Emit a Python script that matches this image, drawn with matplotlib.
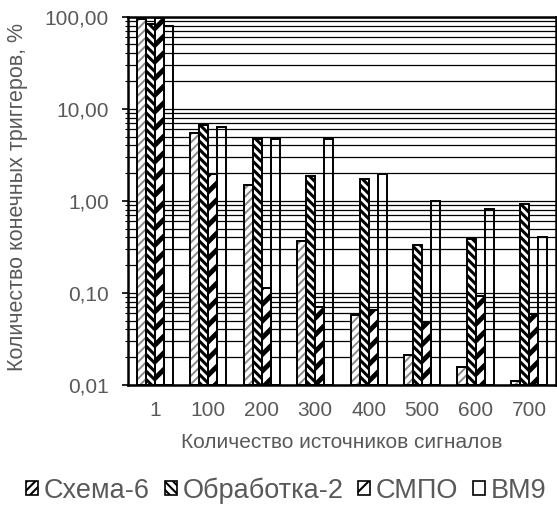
import numpy as np
import matplotlib
matplotlib.use('Agg')
import matplotlib.pyplot as plt
from matplotlib.patches import Patch
from matplotlib.ticker import FixedLocator, FuncFormatter, NullFormatter

plt.rcParams['font.family'] = ['Liberation Sans', 'DejaVu Sans']

sources = ['1', '100', '200', '300', '400', '500', '600', '700']
series_names = ['Схема-6', 'Обработка-2', 'СМПО', 'ВМ9']

schema6 = [94.0, 5.5, 1.47, 0.37, 0.058, 0.021, 0.0156, 0.011]
obrabotka2 = [84.0, 6.7, 4.7, 1.84, 1.72, 0.33, 0.38, 0.93]
smpo = [97.0, 1.95, 0.112, 0.071, 0.065, 0.048, 0.093, 0.059]
vm9 = [78.5, 6.4, 4.7, 4.72, 1.95, 1.0, 0.81, 0.40]

grey = '#595959'
base = 0.01  # bottom of the log axis

# (hatch pattern, hatch colour, hatch linewidth)
styles = [('////', '#8a8a8a', 1.4),
          ('\\\\\\\\', 'black', 2.2),
          ('//', 'black', 3.5),
          ('', 'black', 1.0)]

fig = plt.figure(figsize=(5.57, 5.25), dpi=100)
ax = fig.add_axes([0.23, 0.267, 0.768, 0.701])

x = np.arange(len(sources))
width = 0.17
all_series = [schema6, obrabotka2, smpo, vm9]
for i, (vals, (hatch, hcol, hlw)) in enumerate(zip(all_series, styles)):
  pos = x + (i - 1.5) * width
  heights = np.array(vals) - base
  if hatch:
    with plt.rc_context({'hatch.linewidth': hlw}):
      bars = ax.bar(pos, heights, width, bottom=base, color='white',
                    edgecolor=hcol, hatch=hatch, linewidth=0, zorder=2)
      for b in bars:
        if hasattr(b, 'set_hatch_linewidth'):
          b.set_hatch_linewidth(hlw)
  ax.bar(pos, heights, width, bottom=base, facecolor='none',
         edgecolor='black', linewidth=1.4, zorder=3)

ax.set_yscale('log')
ax.set_ylim(0.01, 100)
ax.set_xlim(-0.5, len(sources) - 0.5)

major = [0.01, 0.1, 1, 10, 100]
minor = [m * d for d in [0.01, 0.1, 1, 10] for m in range(2, 10)]
ax.yaxis.set_major_locator(FixedLocator(major))
ax.yaxis.set_minor_locator(FixedLocator(minor))
ax.yaxis.set_major_formatter(
    FuncFormatter(lambda v, p: f'{v:.2f}'.replace('.', ',')))
ax.yaxis.set_minor_formatter(NullFormatter())
for v in major + minor:
  ax.axhline(v, color='black', linewidth=0.9, zorder=1)

ax.set_xticks(x)
ax.set_xticklabels(sources)
ax.tick_params(axis='x', length=0, labelsize=15, labelcolor=grey, pad=12)
ax.tick_params(axis='y', which='major', length=4, width=1.2, labelsize=15,
               labelcolor=grey, pad=10)
ax.tick_params(axis='y', which='minor', length=2, width=0.8)

for s in ax.spines.values():
  s.set_linewidth(1.8)
  s.set_color('black')

ax.set_xlabel('Количество источников сигналов', fontsize=15, color=grey,
              labelpad=9)
ax.set_ylabel('Количество конечных триггеров, %', fontsize=15.5, color=grey)
ax.yaxis.set_label_coords(-0.235, 0.51)

handles = []
for name, (hatch, hcol, hlw) in zip(series_names, styles):
  handles.append(Patch(facecolor='white', edgecolor='black', hatch=hatch,
                       linewidth=1.2, label=name))
with plt.rc_context({'hatch.linewidth': 1.5}):
  fig.legend(handles=handles, loc='center', bbox_to_anchor=(0.514, 0.066),
             ncol=4, frameon=False, fontsize=19.5, handlelength=0.45,
             handleheight=0.45, handletextpad=0.2, columnspacing=0.55,
             labelcolor=grey)

fig.savefig('out.png', dpi=100)
